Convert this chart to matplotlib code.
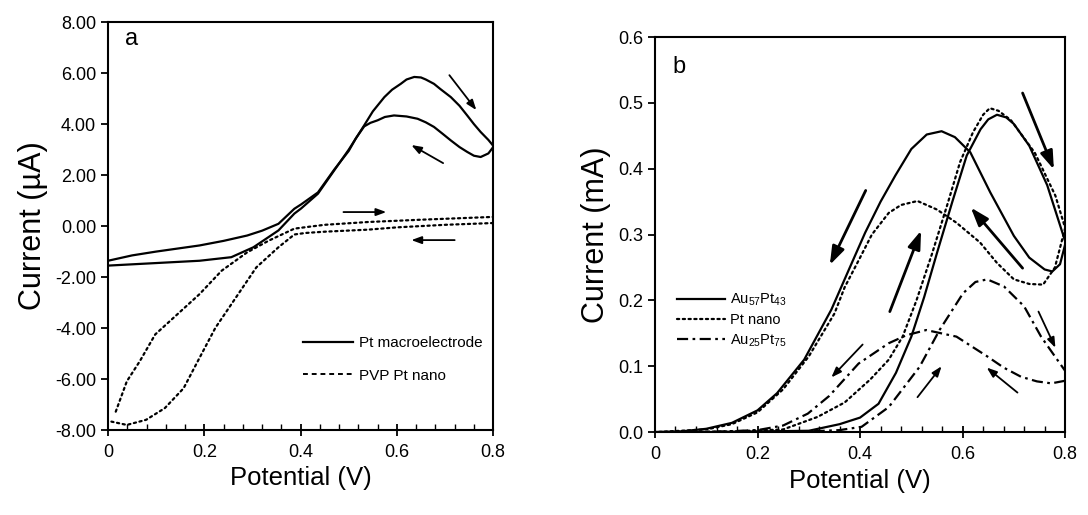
import matplotlib
matplotlib.use("Agg")
import matplotlib.pyplot as plt
from matplotlib.ticker import MultipleLocator, FormatStrFormatter

plt.rcParams['font.family'] = ['Liberation Sans', 'DejaVu Sans']
plt.rcParams['mathtext.fontset'] = 'custom'
plt.rcParams['mathtext.rm'] = 'Liberation Sans'
plt.rcParams['mathtext.it'] = 'Liberation Sans'

# ---- panel a: Pt macroelectrode vs PVP Pt nano (current in uA) ----
macro_fwd_v = [0, 0.05, 0.1, 0.15, 0.19, 0.256, 0.302, 0.354, 0.387, 0.401, 0.436, 0.47, 0.5, 0.532,
               0.55, 0.574, 0.59, 0.608, 0.62, 0.636, 0.65, 0.66, 0.677, 0.69, 0.712, 0.73, 0.746,
               0.76, 0.774, 0.79, 0.8]
macro_fwd_i = [-1.55, -1.5, -1.45, -1.4, -1.36, -1.22, -0.83, -0.17, 0.49, 0.69, 1.27, 2.19, 3.0, 3.95,
               4.5, 5.06, 5.35, 5.58, 5.75, 5.85, 5.83, 5.75, 5.58, 5.38, 5.06, 4.72, 4.34,
               4.0, 3.69, 3.38, 3.15]
macro_rev_v = [0.8, 0.79, 0.774, 0.76, 0.746, 0.73, 0.712, 0.695, 0.677, 0.66, 0.643, 0.62, 0.594,
               0.575, 0.56, 0.545, 0.532, 0.515, 0.5, 0.47, 0.436, 0.401, 0.387, 0.354, 0.32, 0.289,
               0.24, 0.19, 0.1, 0.05, 0]
macro_rev_i = [3.1, 2.85, 2.71, 2.76, 2.91, 3.1, 3.36, 3.62, 3.89, 4.07, 4.21, 4.3, 4.34,
               4.28, 4.15, 4.05, 3.91, 3.45, 2.95, 2.22, 1.32, 0.85, 0.68, 0.09, -0.18, -0.37,
               -0.58, -0.76, -1.0, -1.15, -1.36]

nano_fwd_v = [0.016, 0.039, 0.066, 0.098, 0.144, 0.19, 0.236, 0.289, 0.334, 0.387, 0.42, 0.45, 0.54,
              0.65, 0.8]
nano_fwd_i = [-7.28, -6.09, -5.3, -4.25, -3.46, -2.67, -1.75, -1.03, -0.57, -0.1, -0.02, 0.05, 0.16,
              0.25, 0.36]
nano_rev_v = [0.8, 0.7, 0.6, 0.54, 0.45, 0.41, 0.387, 0.354, 0.308, 0.256, 0.223, 0.19, 0.157, 0.118,
              0.079, 0.039, 0.007]
nano_rev_i = [0.12, 0.05, -0.05, -0.14, -0.22, -0.27, -0.33, -0.83, -1.62, -3.07, -3.99, -5.17, -6.36,
              -7.14, -7.6, -7.8, -7.67]

# ---- panel b: Au57Pt43, Pt nano, Au25Pt75 (current in mA) ----
au57_fwd_v = [0, 0.1, 0.2, 0.3, 0.36, 0.4, 0.436, 0.47, 0.5, 0.525, 0.55, 0.58, 0.608, 0.635, 0.65,
              0.667, 0.685, 0.7, 0.73, 0.765, 0.8]
au57_fwd_i = [0, 0, 0.001, 0.002, 0.012, 0.022, 0.043, 0.09, 0.145, 0.205, 0.272, 0.35, 0.42, 0.46,
              0.475, 0.482, 0.478, 0.468, 0.435, 0.375, 0.29]
au57_rev_v = [0.8, 0.79, 0.775, 0.76, 0.73, 0.7, 0.654, 0.615, 0.585, 0.559, 0.53, 0.5, 0.469, 0.44,
              0.41, 0.38, 0.344, 0.291, 0.238, 0.2, 0.15, 0.1, 0.05, 0]
au57_rev_i = [0.285, 0.255, 0.244, 0.247, 0.265, 0.298, 0.364, 0.425, 0.448, 0.457, 0.452, 0.43,
              0.39, 0.35, 0.303, 0.25, 0.186, 0.11, 0.059, 0.033, 0.014, 0.005, 0.001, 0]

ptn_fwd_v = [0, 0.15, 0.25, 0.317, 0.37, 0.42, 0.456, 0.483, 0.51, 0.54, 0.57, 0.595, 0.62, 0.64,
             0.653, 0.67, 0.694, 0.741, 0.781, 0.8]
ptn_fwd_i = [0, 0.001, 0.004, 0.023, 0.045, 0.08, 0.11, 0.145, 0.2, 0.27, 0.345, 0.41, 0.455, 0.482,
             0.492, 0.488, 0.474, 0.424, 0.359, 0.31]
ptn_rev_v = [0.8, 0.78, 0.757, 0.73, 0.7, 0.667, 0.634, 0.588, 0.55, 0.512, 0.48, 0.456, 0.423, 0.4,
             0.37, 0.35, 0.3, 0.25, 0.2, 0.15, 0.1, 0]
ptn_rev_i = [0.31, 0.25, 0.224, 0.225, 0.232, 0.257, 0.288, 0.318, 0.338, 0.351, 0.345, 0.333, 0.3,
             0.265, 0.22, 0.18, 0.115, 0.065, 0.03, 0.012, 0.004, 0]

au25_fwd_v = [0, 0.2, 0.3, 0.36, 0.403, 0.456, 0.516, 0.555, 0.601, 0.625, 0.648, 0.681, 0.72, 0.753,
              0.78, 0.8]
au25_fwd_i = [0, 0, 0.001, 0.003, 0.008, 0.038, 0.099, 0.155, 0.211, 0.228, 0.232, 0.221, 0.191,
              0.145, 0.115, 0.093]
au25_rev_v = [0.8, 0.773, 0.745, 0.714, 0.68, 0.648, 0.588, 0.529, 0.49, 0.456, 0.397, 0.34, 0.298,
              0.25, 0.2, 0.1, 0]
au25_rev_i = [0.078, 0.074, 0.077, 0.084, 0.098, 0.115, 0.145, 0.155, 0.147, 0.135, 0.104, 0.055,
              0.028, 0.01, 0.003, 0, 0]

fig = plt.figure(figsize=(10.88, 5.15), dpi=100)
ax1 = fig.add_axes([0.0993, 0.165, 0.354, 0.792])
ax2 = fig.add_axes([0.602, 0.161, 0.377, 0.767])

k = 'black'
dots = (0, (1, 1.6))
dashdot = (0, (5, 2, 1.2, 2))

# panel a
ax1.plot(macro_fwd_v, macro_fwd_i, color=k, lw=1.6, label='Pt macroelectrode')
ax1.plot(macro_rev_v, macro_rev_i, color=k, lw=1.6)
ax1.plot(nano_fwd_v, nano_fwd_i, color=k, lw=1.6, ls=dots, dash_capstyle='round')
ax1.plot(nano_rev_v, nano_rev_i, color=k, lw=1.6, ls=dots, dash_capstyle='round')
ax1.plot([], [], color=k, lw=1.4, ls=(0, (2.5, 2)), label='PVP Pt nano')

small = dict(arrowstyle='-|>,head_length=0.6,head_width=0.22', color=k, lw=1.3, shrinkA=0, shrinkB=0)
for start, end in [((0.709, 5.92), (0.765, 4.55)), ((0.696, 2.47), (0.63, 3.18)),
                   ((0.489, 0.55), (0.578, 0.55)), ((0.72, -0.55), (0.63, -0.55))]:
    ax1.annotate('', xy=end, xytext=start, arrowprops=small)

ax1.set_xlim(0, 0.8)
ax1.set_ylim(-8, 8)
ax1.xaxis.set_major_locator(MultipleLocator(0.2))
ax1.xaxis.set_minor_locator(MultipleLocator(0.04))
ax1.yaxis.set_major_locator(MultipleLocator(2))
ax1.yaxis.set_major_formatter(FormatStrFormatter('%.2f'))
ax1.xaxis.set_major_formatter(plt.FuncFormatter(lambda v, p: '0' if abs(v) < 1e-9 else '%g' % v))
ax1.text(0.035, 7.1, 'a', fontsize=17)
ax1.legend(loc='upper left', bbox_to_anchor=(0.49, 0.245), frameon=False, fontsize=11,
           handlelength=3.3, labelspacing=1.2, handletextpad=0.4, borderaxespad=0)
ax1.set_xlabel('Potential (V)', fontsize=18.5, labelpad=4)
ax1.set_ylabel('Current (µA)', fontsize=22, labelpad=5)

# panel b
big = dict(arrowstyle='-|>,head_length=1.1,head_width=0.38', color=k, lw=2.0, shrinkA=0, shrinkB=0)
ax2.plot(au57_fwd_v, au57_fwd_i, color=k, lw=1.6, label=r'Au$_{57}$Pt$_{43}$')
ax2.plot(au57_rev_v, au57_rev_i, color=k, lw=1.6)
ax2.plot(ptn_fwd_v, ptn_fwd_i, color=k, lw=1.6, ls=dots, dash_capstyle='round', label='Pt nano')
ax2.plot(ptn_rev_v, ptn_rev_i, color=k, lw=1.6, ls=dots, dash_capstyle='round')
ax2.plot(au25_fwd_v, au25_fwd_i, color=k, lw=1.6, ls=dashdot, label=r'Au$_{25}$Pt$_{75}$')
ax2.plot(au25_rev_v, au25_rev_i, color=k, lw=1.6, ls=dashdot)

for start, end in [((0.717, 0.515), (0.778, 0.399)), ((0.411, 0.367), (0.341, 0.254)),
                   ((0.458, 0.183), (0.519, 0.306)), ((0.717, 0.249), (0.616, 0.341))]:
    ax2.annotate('', xy=end, xytext=start, arrowprops=big)
for start, end in [((0.405, 0.133), (0.344, 0.083)), ((0.512, 0.053), (0.559, 0.100)),
                   ((0.748, 0.183), (0.781, 0.128)), ((0.707, 0.060), (0.647, 0.098))]:
    ax2.annotate('', xy=end, xytext=start, arrowprops=small)

ax2.set_xlim(0, 0.8)
ax2.set_ylim(0, 0.6)
ax2.xaxis.set_major_locator(MultipleLocator(0.2))
ax2.xaxis.set_minor_locator(MultipleLocator(0.04))
ax2.yaxis.set_major_locator(MultipleLocator(0.1))
ax2.yaxis.set_major_formatter(FormatStrFormatter('%.1f'))
ax2.xaxis.set_major_formatter(plt.FuncFormatter(lambda v, p: '0' if abs(v) < 1e-9 else '%g' % v))
ax2.text(0.035, 0.545, 'b', fontsize=17)
ax2.legend(loc='upper left', bbox_to_anchor=(0.04, 0.37), frameon=False, fontsize=10.5,
           handlelength=3.3, labelspacing=0.35, handletextpad=0.3, borderaxespad=0)
ax2.set_xlabel('Potential (V)', fontsize=18.5, labelpad=4)
ax2.set_ylabel('Current (mA)', fontsize=22, labelpad=5)

for ax in (ax1, ax2):
    for s in ax.spines.values():
        s.set_linewidth(1.5)
    ax.tick_params(axis='x', which='major', direction='inout', length=8, width=1.3, labelsize=13, pad=6)
    ax.tick_params(axis='x', which='minor', direction='in', length=4, width=1.0)
    ax.tick_params(axis='y', which='major', direction='out', length=5, width=1.3, labelsize=13)

fig.savefig('out.png', dpi=100)
